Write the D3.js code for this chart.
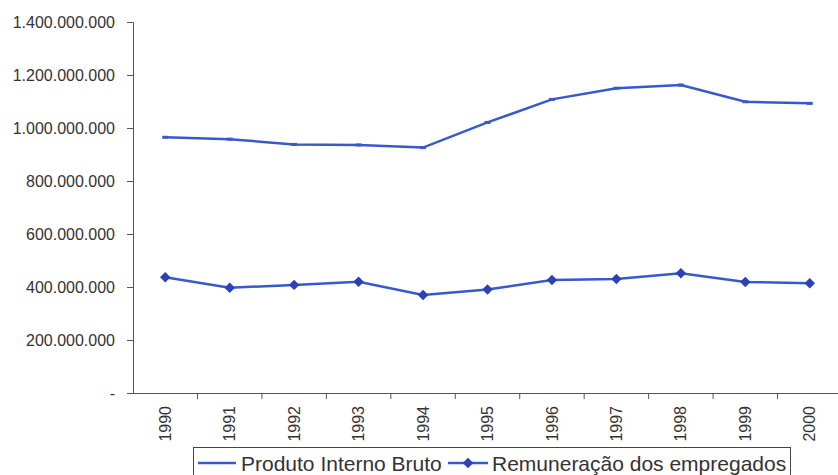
<!DOCTYPE html>
<html>
<head>
<meta charset="utf-8">
<script src="https://cdn.jsdelivr.net/npm/d3@7"></script>
<style>
  body { margin: 0; background: #fff; }
  text { font-family: "Liberation Sans", Arial, sans-serif; fill: #333; }
</style>
</head>
<body>
<svg id="chart" width="838" height="475"></svg>
<script>
// Data
var years = ["1990", "1991", "1992", "1993", "1994", "1995", "1996", "1997", "1998", "1999", "2000"];
var pib = [965e6, 958e6, 938e6, 936e6, 926e6, 1021e6, 1108e6, 1150e6, 1162e6, 1099e6, 1093e6];
var remuneracao = [437e6, 397e6, 408e6, 420e6, 370e6, 391e6, 426e6, 430e6, 452e6, 419e6, 414e6];
var yTicks = [0, 200e6, 400e6, 600e6, 800e6, 1000e6, 1200e6, 1400e6];
var seriesNames = ["Produto Interno Bruto", "Remuneração dos empregados"];

var svg = d3.select("#chart");
var lineColor = "#3659cc";
var markColor = "#2b41b5";

// Scales
var x = d3.scaleBand().domain(years).range([133, 842]);
var y = d3.scaleLinear().domain([0, 1400e6]).range([393, 22]);

var fmt = function(v) {
    if (v === 0) return "-";
    return d3.format(",")(v).replace(/,/g, ".");
};

// Y axis
var yAxis = svg.append("g")
    .attr("transform", "translate(133,0)")
    .call(d3.axisLeft(y).tickValues(yTicks).tickFormat(fmt).tickSize(6).tickPadding(12));
yAxis.selectAll("text").style("font-size", "16px").attr("fill", "#333");
yAxis.selectAll("line, path").attr("stroke", "#555");

// X axis
var xAxis = svg.append("g")
    .attr("transform", "translate(0,393)")
    .call(d3.axisBottom(x).tickSizeOuter(6).tickSize(0));
xAxis.select("path").attr("stroke", "#555");
xAxis.selectAll(".tick line").remove();
xAxis.selectAll("text")
    .style("font-size", "16px")
    .attr("fill", "#333")
    .attr("transform", "rotate(-90)")
    .attr("text-anchor", "end")
    .attr("x", -13)
    .attr("y", 0)
    .attr("dy", "0.35em");

// tick marks between categories
svg.append("g").selectAll("line")
    .data(years)
    .enter().append("line")
    .attr("x1", function(d) { return x(d) + x.bandwidth(); })
    .attr("x2", function(d) { return x(d) + x.bandwidth(); })
    .attr("y1", 393).attr("y2", 399)
    .attr("stroke", "#555");

var cx = function(d, i) { return x(years[i]) + x.bandwidth() / 2; };

var line = d3.line()
    .x(cx)
    .y(function(d) { return y(d); });

// PIB line
svg.append("path")
    .datum(pib)
    .attr("d", line)
    .attr("fill", "none")
    .attr("stroke", lineColor)
    .attr("stroke-width", 2.5);

svg.append("g").selectAll("rect")
    .data(pib)
    .enter().append("rect")
    .attr("x", function(d, i) { return cx(d, i) - 3; })
    .attr("y", function(d) { return y(d) - 1.5; })
    .attr("width", 6).attr("height", 3)
    .attr("fill", lineColor);

// Remuneração line
svg.append("path")
    .datum(remuneracao)
    .attr("d", line)
    .attr("fill", "none")
    .attr("stroke", lineColor)
    .attr("stroke-width", 2.5);

var diamond = d3.symbol().type(d3.symbolSquare).size(55);
svg.append("g").selectAll("path")
    .data(remuneracao)
    .enter().append("path")
    .attr("d", diamond)
    .attr("transform", function(d, i) { return "translate(" + cx(d, i) + "," + y(d) + ") rotate(45)"; })
    .attr("fill", markColor);

// Legend
var legend = svg.append("g");
legend.append("rect")
    .attr("x", 193.5).attr("y", 447.5)
    .attr("width", 597).attr("height", 40)
    .attr("fill", "#fff")
    .attr("stroke", "#444");

legend.append("line")
    .attr("x1", 198).attr("x2", 236).attr("y1", 463).attr("y2", 463)
    .attr("stroke", lineColor).attr("stroke-width", 2.5);
legend.append("text")
    .attr("x", 241).attr("y", 471)
    .style("font-size", "21px")
    .attr("fill", "#222")
    .text(seriesNames[0]);

legend.append("line")
    .attr("x1", 448).attr("x2", 488).attr("y1", 463).attr("y2", 463)
    .attr("stroke", lineColor).attr("stroke-width", 2.5);
legend.append("path")
    .attr("d", diamond)
    .attr("transform", "translate(468,463) rotate(45)")
    .attr("fill", markColor);
legend.append("text")
    .attr("x", 492).attr("y", 471)
    .style("font-size", "21px")
    .attr("fill", "#222")
    .text(seriesNames[1]);
</script>
</body>
</html>
